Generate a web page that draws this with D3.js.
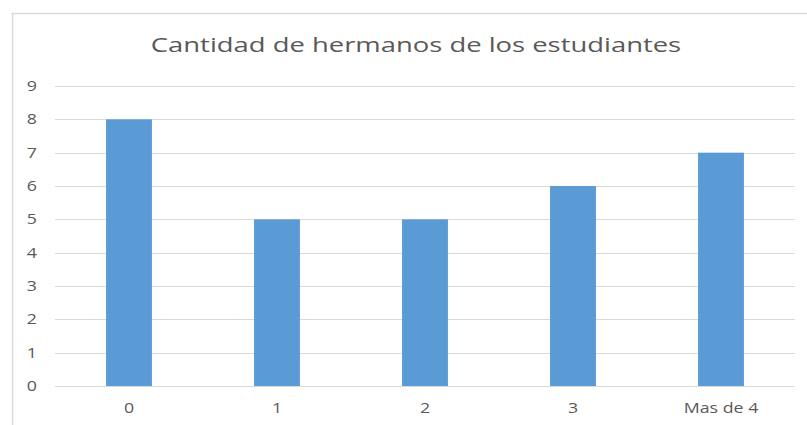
<!DOCTYPE html>
<html>
<head>
<meta charset="utf-8">
<script src="https://cdn.jsdelivr.net/npm/d3@7"></script>
<style>
  body { margin: 0; background: #fff; }
  svg { display: block; font-family: "Open Sans", sans-serif; }
</style>
</head>
<body>
<div id="chart"></div>
<script>
const categories = ["0", "1", "2", "3", "Mas de 4"];
const hermanos = [8, 5, 5, 6, 7];
const yTicks = [0, 1, 2, 3, 4, 5, 6, 7, 8, 9];
const title = "Cantidad de hermanos de los estudiantes";

const width = 807, height = 425;
const margin = { top: 86, right: 12, bottom: 39, left: 55 };
const plotW = width - margin.left - margin.right;
const plotH = height - margin.top - margin.bottom;

const svg = d3.select("#chart").append("svg")
  .attr("width", width)
  .attr("height", height);

// widen text like in the original (the source picture is a bit wide)
function widen(sel, k) {
  sel.each(function () {
    const len = this.getComputedTextLength();
    d3.select(this)
      .attr("textLength", len * k)
      .attr("lengthAdjust", "spacingAndGlyphs");
  });
}

// chart border
svg.append("rect")
  .attr("x", 12.5).attr("y", 13.5)
  .attr("width", 820).attr("height", 440)
  .attr("fill", "none")
  .attr("stroke", "#d9d9d9")
  .attr("stroke-width", 1.5);

svg.append("text")
  .attr("x", 416)
  .attr("y", 52)
  .attr("text-anchor", "middle")
  .attr("fill", "#595959")
  .style("font-size", "20px")
  .text(title)
  .call(widen, 1.37);

const g = svg.append("g")
  .attr("transform", "translate(" + margin.left + "," + margin.top + ")");

const x = d3.scaleBand().domain(categories).range([0, plotW])
  .paddingInner(0.69).paddingOuter(0.345);
const y = d3.scaleLinear().domain([0, 9]).range([plotH, 0]);

// gridlines
g.append("g")
  .selectAll("line")
  .data(yTicks)
  .join("line")
  .attr("x1", 0).attr("x2", plotW)
  .attr("y1", d => Math.round(y(d)) + 0.5)
  .attr("y2", d => Math.round(y(d)) + 0.5)
  .attr("stroke", "#d9d9d9");

// bars
g.selectAll(".bar")
  .data(hermanos)
  .join("rect")
  .attr("class", "bar")
  .attr("x", (d, i) => x(categories[i]))
  .attr("width", x.bandwidth())
  .attr("y", d => y(d))
  .attr("height", d => plotH - y(d))
  .attr("fill", "#5b9bd5");

// y axis
const yAxis = g.append("g")
  .call(d3.axisLeft(y).tickValues(yTicks).tickSize(0).tickPadding(18));
yAxis.select(".domain").remove();
yAxis.selectAll("text")
  .attr("fill", "#595959")
  .style("font-size", "14px")
  .style("font-family", "'Open Sans', sans-serif")
  .call(widen, 1.27);

// x axis
const xAxis = g.append("g")
  .attr("transform", "translate(0," + plotH + ")")
  .call(d3.axisBottom(x).tickSize(0).tickPadding(17));
xAxis.select(".domain").remove();
xAxis.selectAll("text")
  .attr("fill", "#595959")
  .style("font-size", "14px")
  .style("font-family", "'Open Sans', sans-serif")
  .call(widen, 1.27);
</script>
</body>
</html>
